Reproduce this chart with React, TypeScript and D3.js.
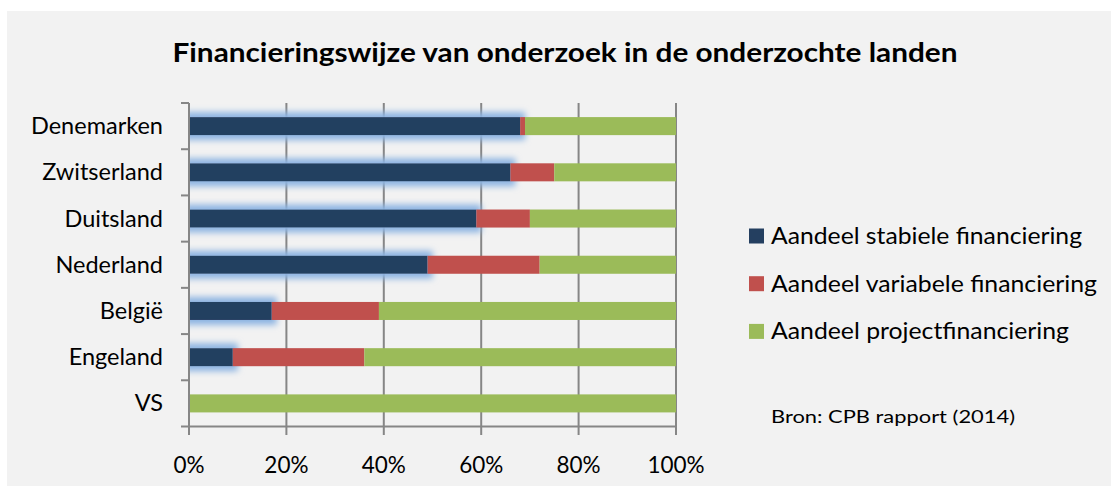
import React from "react";
import * as d3 from "d3";

const countries = ["Denemarken", "Zwitserland", "Duitsland", "Nederland", "België", "Engeland", "VS"];
const stabiel = [68, 66, 59, 49, 17, 9, 0];
const variabel = [1, 9, 11, 23, 22, 27, 0];
const project = [31, 25, 30, 28, 61, 64, 100];
const seriesNames = ["Aandeel stabiele financiering", "Aandeel variabele financiering", "Aandeel projectfinanciering"];
const seriesColors = ["#243F60", "#C0504D", "#9BBB59"];
const xTicks = [0, 20, 40, 60, 80, 100];
const title = "Financieringswijze van onderzoek in de onderzochte landen";
const source = "Bron: CPB rapport (2014)";

const W = 1111;
const H = 486;
const FONT = "Lato, 'Open Sans', sans-serif";

export default function App() {
  const x = d3.scaleLinear().domain([0, 100]).range([189, 676]);
  const y = d3.scaleBand<string>().domain(countries).range([103, 426.5]).paddingInner(0.61).paddingOuter(0.305);
  const step = y.step();
  const data = countries.map((c, i) => ({ c, s0: stabiel[i], s1: variabel[i], s2: project[i] }));
  const stack = d3.stack<any>().keys(["s0", "s1", "s2"])(data);
  const gridColor = "#868686";
  const boundaries = d3.range(countries.length + 1).map((i) => 103 + i * step);

  return (
    <div style={{ position: "absolute", left: 0, top: 0 }}>
      <svg width={W} height={H} style={{ display: "block" }}>
        <defs>
          <filter id="glow" x="-20%" y="-150%" width="140%" height="400%">
            <feMorphology in="SourceAlpha" operator="dilate" radius="5" result="d" />
            <feGaussianBlur in="d" stdDeviation="3" result="b" />
            <feFlood floodColor="#8DB4E2" floodOpacity="1" result="f" />
            <feComposite in="f" in2="b" operator="in" result="g" />
            <feMerge>
              <feMergeNode in="g" />
              <feMergeNode in="SourceGraphic" />
            </feMerge>
          </filter>
          <clipPath id="plotclip">
            <rect x={190} y={95} width={600} height={340} />
          </clipPath>
        </defs>
        <rect x={7} y={11} width={W - 7} height={H - 11} fill="#F2F2F2" />
        <text x={565} y={62} textAnchor="middle" fontFamily={FONT} fontWeight="bold" fontSize={26} fill="#000" textLength={785} lengthAdjust="spacingAndGlyphs">
          {title}
        </text>
        {/* gridlines */}
        {xTicks.slice(1).map((t) => (
          <line key={"g" + t} x1={x(t)} x2={x(t)} y1={103} y2={426.5} stroke={gridColor} strokeWidth={2} />
        ))}
        {/* bars */}
        <g clipPath="url(#plotclip)">
          {stack.map((layer, si) => (
            <g key={si} filter={si === 0 ? "url(#glow)" : undefined}>
              {layer.map((d, i) =>
                d[1] - d[0] > 0 ? (
                  <rect
                    key={i}
                    x={x(d[0])}
                    y={y(countries[i])}
                    width={x(d[1]) - x(d[0])}
                    height={y.bandwidth()}
                    fill={seriesColors[si]}
                  />
                ) : null
              )}
            </g>
          ))}
        </g>
        {/* axes */}
        <line x1={189} x2={189} y1={103} y2={427} stroke={gridColor} strokeWidth={2} />
        {boundaries.map((b, i) => (
          <line key={"lt" + i} x1={181} x2={189} y1={b} y2={b} stroke={gridColor} strokeWidth={2} />
        ))}
        <line x1={188} x2={677} y1={426.5} y2={426.5} stroke={gridColor} strokeWidth={2} />
        {xTicks.map((t) => (
          <line key={"bt" + t} x1={x(t)} x2={x(t)} y1={426.5} y2={435} stroke={gridColor} strokeWidth={2} />
        ))}
        {xTicks.map((t) => (
          <text key={"tl" + t} x={x(t)} y={473} textAnchor="middle" fontFamily={FONT} fontSize={22.5} fill="#000">
            {t + "%"}
          </text>
        ))}
        {countries.map((c) => (
          <text key={c} x={163} y={(y(c) as number) + y.bandwidth() / 2 + 8} textAnchor="end" fontFamily={FONT} fontSize={23.5} fill="#000">
            {c}
          </text>
        ))}
        {/* legend */}
        {seriesNames.map((n, i) => {
          const cy = 236 + i * 47.7;
          const widths = [311, 326, 298];
          return (
            <g key={n}>
              <rect x={749} y={cy - 7.5} width={15} height={15} fill={seriesColors[i]} />
              <text x={771} y={cy + 8} fontFamily={FONT} fontSize={22.5} fill="#000" textLength={widths[i]} lengthAdjust="spacingAndGlyphs">
                {n}
              </text>
            </g>
          );
        })}
        <text x={771} y={423} fontFamily={FONT} fontSize={18} fill="#000" textLength={244} lengthAdjust="spacingAndGlyphs">
          {source}
        </text>
      </svg>
    </div>
  );
}
